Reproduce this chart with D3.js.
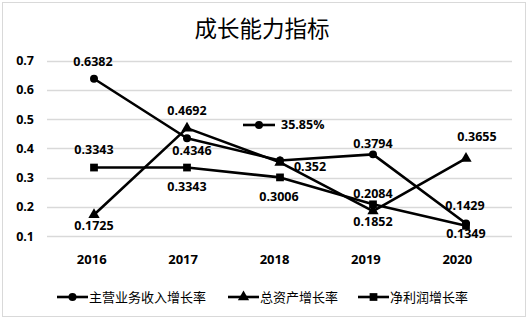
<!doctype html>
<html lang="zh">
<head>
    <meta charset="UTF-8">
    <title>成长能力指标</title>
    <style>
        body { margin: 0; background: #fff; }
        text { font-family: 'Open Sans', 'Liberation Sans', sans-serif; }
        .cjk { font-family: 'Noto Sans CJK SC', sans-serif; }
    </style>
</head>
<body>
<div class="canvas"></div>
<script src="https://d3js.org/d3.v7.min.js"></script>
<script>
    // data
    const years = ['2016', '2017', '2018', '2019', '2020'];
    const revenueGrowth = [0.6382, 0.4346, 0.3585, 0.3794, 0.1429];
    const assetGrowth = [0.1725, 0.4692, 0.352, 0.1852, 0.3655];
    const profitGrowth = [0.3343, 0.3343, 0.3006, 0.2084, 0.1349];
    const yTicks = [0.1, 0.2, 0.3, 0.4, 0.5, 0.6, 0.7];
    const seriesNames = ['主营业务收入增长率', '总资产增长率', '净利润增长率'];

    const svgWidth = 532;
    const svgHeight = 321;

    const svg = d3.select('.canvas').append('svg')
        .attr('width', svgWidth)
        .attr('height', svgHeight);

    // outer frame
    svg.append('rect')
        .attr('x', 2.5).attr('y', 2.5)
        .attr('width', 523).attr('height', 314)
        .attr('fill', '#fff')
        .attr('stroke', '#d9d9d9');

    const x = d3.scalePoint().domain(years).range([47.5, 512.5]).padding(0.5);
    const xLabel = d3.scalePoint().domain(years).range([46, 503]).padding(0.5);
    const y = d3.scaleLinear().domain([0.1, 0.7]).range([236, 60.7]);

    // title
    svg.append('text')
        .attr('class', 'cjk')
        .attr('x', 262).attr('y', 37)
        .attr('text-anchor', 'middle')
        .attr('font-size', 22.5)
        .attr('fill', '#000')
        .text('成长能力指标');

    // grid
    svg.append('g').selectAll('line')
        .data(yTicks)
        .join('line')
        .attr('x1', 47).attr('x2', 512)
        .attr('y1', d => Math.round(y(d)) + 0.5)
        .attr('y2', d => Math.round(y(d)) + 0.5)
        .attr('stroke', '#d9d9d9')
        .attr('stroke-width', 1.3);

    // y tick labels
    svg.append('g').selectAll('text')
        .data(yTicks)
        .join('text')
        .attr('x', 34).attr('y', d => y(d) + 4.5)
        .attr('text-anchor', 'end')
        .attr('font-size', 12.5)
        .attr('font-weight', 'bold')
        .text(d => d3.format('.1f')(d));

    // x tick labels
    svg.append('g').selectAll('text')
        .data(years)
        .join('text')
        .attr('x', d => xLabel(d)).attr('y', 264)
        .attr('text-anchor', 'middle')
        .attr('font-size', 13)
        .attr('font-weight', 'bold')
        .text(d => d);

    const series = [
        { name: seriesNames[0], values: revenueGrowth, marker: 'circle' },
        { name: seriesNames[1], values: assetGrowth, marker: 'triangle' },
        { name: seriesNames[2], values: profitGrowth, marker: 'square' }
    ];

    const symbolOf = {
        circle: d3.symbol(d3.symbolCircle, 50),
        triangle: d3.symbol(d3.symbolTriangle, 55),
        square: d3.symbol(d3.symbolSquare, 60)
    };

    const line = d3.line()
        .x((d, i) => x(years[i]))
        .y(d => y(d));

    series.forEach(s => {
        svg.append('path')
            .attr('d', line(s.values))
            .attr('fill', 'none')
            .attr('stroke', '#000')
            .attr('stroke-width', 2.6)
            .attr('stroke-linejoin', 'round');
        svg.append('g').selectAll('path')
            .data(s.values)
            .join('path')
            .attr('transform', (d, i) => `translate(${x(years[i])},${y(d)})`)
            .attr('d', symbolOf[s.marker]())
            .attr('fill', '#000');
    });

    // data label placement: [dx, dy] from the point
    const labelOffsets = [
        [[-1, -17], [5, 12], null, [0, -11], [-1, -17.5]],
        [[0, 11], [0, -18], [30, 4], [0, 10], [11, -22]],
        [[0, -18.5], [0, 19], [-1, 19], [0, -11], [0, 7.5]]
    ];

    series.forEach((s, si) => {
        const pts = s.values
            .map((v, i) => ({ v, i, off: labelOffsets[si][i] }))
            .filter(d => d.off !== null);
        svg.append('g').selectAll('text')
            .data(pts)
            .join('text')
            .attr('x', d => x(years[d.i]) + d.off[0])
            .attr('y', d => y(d.v) + d.off[1] + 4.5)
            .attr('text-anchor', 'middle')
            .attr('font-size', 12.5)
            .attr('font-weight', 'bold')
            .text(d => d.v);
    });

    // stray percent label of revenue 2018 with its key
    const strayY = y(0.48);
    svg.append('line')
        .attr('x1', 243).attr('x2', 275)
        .attr('y1', strayY).attr('y2', strayY)
        .attr('stroke', '#000').attr('stroke-width', 2.6);
    svg.append('path')
        .attr('transform', `translate(259,${strayY})`)
        .attr('d', symbolOf.circle())
        .attr('fill', '#000');
    svg.append('text')
        .attr('x', 281).attr('y', strayY + 4.5)
        .attr('font-size', 12.5)
        .attr('font-weight', 'bold')
        .text(d3.format('.2%')(revenueGrowth[2]));

    // legend
    const legendX = [57, 228, 358];
    const legend = svg.append('g').selectAll('g')
        .data(series)
        .join('g')
        .attr('transform', (d, i) => `translate(${legendX[i]},297)`);
    legend.append('line')
        .attr('x1', 0).attr('x2', 31)
        .attr('stroke', '#000').attr('stroke-width', 2.6);
    legend.append('path')
        .attr('transform', 'translate(15.5,0)')
        .attr('d', d => symbolOf[d.marker]())
        .attr('fill', '#000');
    legend.append('text')
        .attr('class', 'cjk')
        .attr('x', 32).attr('y', 4.5)
        .attr('font-size', 13)
        .text(d => d.name);
</script>
</body>
</html>
